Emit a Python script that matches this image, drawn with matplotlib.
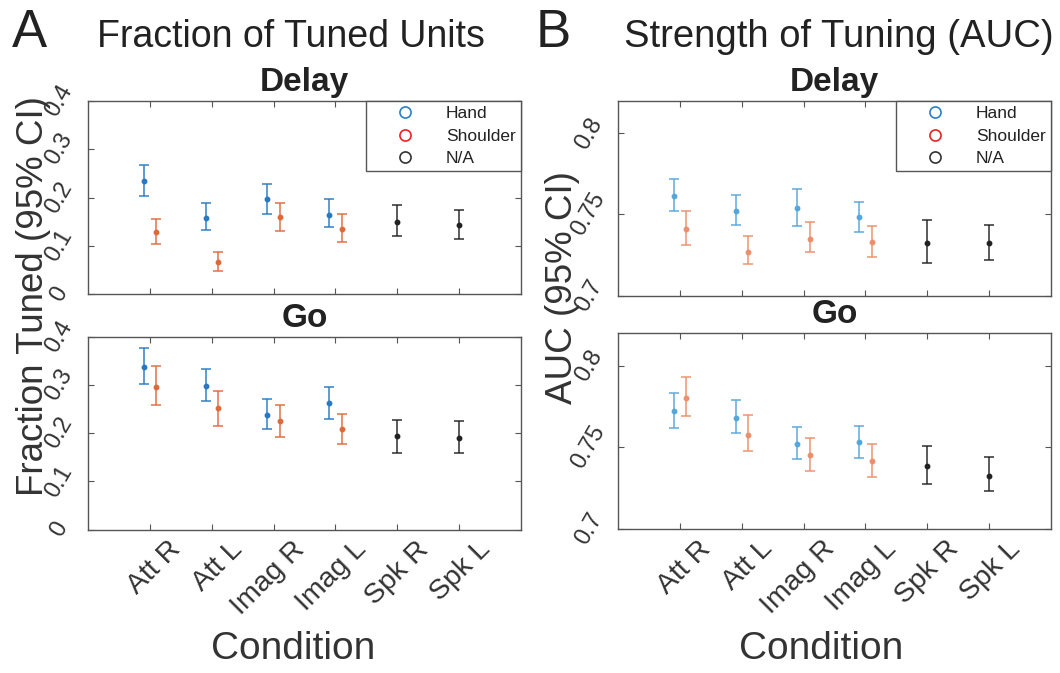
import numpy as np
import matplotlib
matplotlib.use('Agg')
import matplotlib.pyplot as plt
import matplotlib.transforms as mtransforms
from matplotlib.lines import Line2D

plt.rcParams['font.family'] = ['Liberation Sans', 'DejaVu Sans']

# Condições (eixo x)
conditions = ['Att R', 'Att L', 'Imag R', 'Imag L', 'Spk R', 'Spk L']
hand_pos = [1, 2, 3, 4]
shoulder_pos = [1, 2, 3, 4]
na_pos = [5, 6]

# A - Fraction tuned, Delay
frac_delay_hand = [0.234, 0.157, 0.197, 0.164]
frac_delay_hand_lo = [0.203, 0.133, 0.166, 0.138]
frac_delay_hand_hi = [0.268, 0.188, 0.228, 0.196]
frac_delay_sh = [0.128, 0.066, 0.159, 0.134]
frac_delay_sh_lo = [0.103, 0.048, 0.130, 0.108]
frac_delay_sh_hi = [0.156, 0.088, 0.189, 0.166]
frac_delay_na = [0.150, 0.143]
frac_delay_na_lo = [0.121, 0.114]
frac_delay_na_hi = [0.184, 0.175]

# A - Fraction tuned, Go
frac_go_hand = [0.337, 0.299, 0.238, 0.263]
frac_go_hand_lo = [0.303, 0.266, 0.208, 0.230]
frac_go_hand_hi = [0.377, 0.334, 0.272, 0.297]
frac_go_sh = [0.297, 0.253, 0.225, 0.209]
frac_go_sh_lo = [0.259, 0.215, 0.192, 0.178]
frac_go_sh_hi = [0.340, 0.287, 0.259, 0.240]
frac_go_na = [0.194, 0.190]
frac_go_na_lo = [0.160, 0.158]
frac_go_na_hi = [0.228, 0.226]

# B - AUC, Delay
auc_delay_hand = [0.7612, 0.7520, 0.7537, 0.7482]
auc_delay_hand_lo = [0.7523, 0.7437, 0.7429, 0.7390]
auc_delay_hand_hi = [0.7716, 0.7618, 0.7660, 0.7578]
auc_delay_sh = [0.7410, 0.7270, 0.7351, 0.7329]
auc_delay_sh_lo = [0.7310, 0.7194, 0.7266, 0.7235]
auc_delay_sh_hi = [0.7519, 0.7366, 0.7453, 0.7431]
auc_delay_na = [0.7323, 0.7323]
auc_delay_na_lo = [0.7198, 0.7220]
auc_delay_na_hi = [0.7465, 0.7437]

# B - AUC, Go
auc_go_hand = [0.7725, 0.7680, 0.7520, 0.7530]
auc_go_hand_lo = [0.7621, 0.7588, 0.7430, 0.7436]
auc_go_hand_hi = [0.7833, 0.7787, 0.7625, 0.7633]
auc_go_sh = [0.7801, 0.7578, 0.7452, 0.7414]
auc_go_sh_lo = [0.7692, 0.7477, 0.7357, 0.7320]
auc_go_sh_hi = [0.7928, 0.7696, 0.7560, 0.7520]
auc_go_na = [0.7385, 0.7326]
auc_go_na_lo = [0.7274, 0.7235]
auc_go_na_hi = [0.7508, 0.7440]

# Cores
cores_A = {'hand': '#2a78c0', 'sh': '#de6a3c', 'na': '#222222'}
cores_B = {'hand': '#55a6da', 'sh': '#ec8f6c', 'na': '#222222'}
cores_leg = {'Hand': '#2a7fd0', 'Shoulder': '#ee2222', 'N/A': '#333333'}

fig = plt.figure(figsize=(10.6, 6.73), dpi=100)
W, H = 1060, 673


def px_axes(left, top, right, bottom):
    return fig.add_axes([left / W, 1 - bottom / H, (right - left) / W, (bottom - top) / H])


def errbar(ax, pos, mid, lo, hi, off, cor):
    x = np.array(pos) + off
    mid = np.array(mid)
    err = [mid - np.array(lo), np.array(hi) - mid]
    ax.errorbar(x, mid, yerr=err, fmt='none', ecolor=cor, elinewidth=1.3,
                capsize=3.5, capthick=1.3, alpha=0.8)
    ax.plot(x, mid, 'o', color=cor, markersize=3.2, linestyle='none')


def painel(ax, dados, cores, ylim, yticks, yticklabels, titulo, xlabels):
    (h, hlo, hhi), (s, slo, shi), (n, nlo, nhi) = dados
    errbar(ax, hand_pos, h, hlo, hhi, -0.1, cores['hand'])
    errbar(ax, shoulder_pos, s, slo, shi, 0.1, cores['sh'])
    errbar(ax, na_pos, n, nlo, nhi, 0.0, cores['na'])
    ax.set_xlim(0, 7)
    ax.set_ylim(*ylim)
    ax.set_xticks(range(1, 7))
    ax.set_yticks(yticks)
    ax.tick_params(direction='in', length=4, width=0.8, color='#555555',
                   top=True, right=True)
    ax.tick_params(axis='y', pad=21)
    ax.tick_params(axis='x', pad=5)
    ax.set_yticklabels(yticklabels, rotation=60, ha='center', va='center',
                       rotation_mode='anchor', fontsize=17, color='#333333')
    if xlabels:
        ax.set_xticklabels(conditions, rotation=45, ha='right', va='top',
                           rotation_mode='anchor', fontsize=20.5, color='#333333')
        # deslocar rótulos para a direita, como no original
        desloc = mtransforms.ScaledTranslation(18 / 100, 0, fig.dpi_scale_trans)
        for lab in ax.get_xticklabels():
            lab.set_transform(lab.get_transform() + desloc)
    else:
        ax.set_xticklabels([])
    for sp in ax.spines.values():
        sp.set_color('#555555')
        sp.set_linewidth(1.0)
    ax.set_title(titulo, fontsize=24, fontweight='bold', color='#222222', pad=7)


def legenda(ax):
    handles = [Line2D([], [], marker='o', linestyle='none', markersize=8,
                      markerfacecolor='none', markeredgecolor=c, markeredgewidth=1.2)
               for c in cores_leg.values()]
    leg = ax.legend(handles, list(cores_leg.keys()), loc='upper right',
                    bbox_to_anchor=(1.0, 1.0), borderaxespad=0, fancybox=False,
                    edgecolor='#555555', framealpha=1, fontsize=12.5,
                    handlelength=3.9, handletextpad=0.4, labelspacing=0.42,
                    borderpad=0.3)
    leg.get_frame().set_linewidth(1.0)
    for t in leg.get_texts():
        t.set_color('#222222')


ytk_A = [0, 0.1, 0.2, 0.3, 0.4]
ytk_A_lab = ['0', '0.1', '0.2', '0.3', '0.4']
ytk_B = [0.7, 0.75, 0.8]
ytk_B_lab = ['0.7', '0.75', '0.8']

axA1 = px_axes(88, 101, 521, 294)
painel(axA1, [(frac_delay_hand, frac_delay_hand_lo, frac_delay_hand_hi),
              (frac_delay_sh, frac_delay_sh_lo, frac_delay_sh_hi),
              (frac_delay_na, frac_delay_na_lo, frac_delay_na_hi)],
       cores_A, (0, 0.4), ytk_A, ytk_A_lab, 'Delay', False)
legenda(axA1)

axA2 = px_axes(88, 337, 521, 529.5)
painel(axA2, [(frac_go_hand, frac_go_hand_lo, frac_go_hand_hi),
              (frac_go_sh, frac_go_sh_lo, frac_go_sh_hi),
              (frac_go_na, frac_go_na_lo, frac_go_na_hi)],
       cores_A, (0, 0.4), ytk_A, ytk_A_lab, 'Go', True)

axB1 = px_axes(618, 101, 1051, 295.5)
painel(axB1, [(auc_delay_hand, auc_delay_hand_lo, auc_delay_hand_hi),
              (auc_delay_sh, auc_delay_sh_lo, auc_delay_sh_hi),
              (auc_delay_na, auc_delay_na_lo, auc_delay_na_hi)],
       cores_B, (0.7, 0.82), ytk_B, ytk_B_lab, 'Delay', False)
legenda(axB1)

axB2 = px_axes(618, 333, 1051, 529)
painel(axB2, [(auc_go_hand, auc_go_hand_lo, auc_go_hand_hi),
              (auc_go_sh, auc_go_sh_lo, auc_go_sh_hi),
              (auc_go_na, auc_go_na_lo, auc_go_na_hi)],
       cores_B, (0.7, 0.82), ytk_B, ytk_B_lab, 'Go', True)

# Textos gerais
fig.text(12 / W, 1 - 47 / H, 'A', fontsize=38, color='#222222', va='baseline')
fig.text(536 / W, 1 - 47 / H, 'B', fontsize=38, color='#222222', va='baseline')
fig.text(291 / W, 1 - 47 / H, 'Fraction of Tuned Units', fontsize=27,
         color='#222222', ha='center', va='baseline')
fig.text(839 / W, 1 - 47 / H, 'Strength of Tuning (AUC)', fontsize=27.5,
         color='#222222', ha='center', va='baseline')
fig.text(34 / W, 1 - 296 / H, 'Fraction Tuned (95% CI)', fontsize=26.5,
         color='#333333', ha='center', va='center', rotation=90)
fig.text(562 / W, 1 - 288 / H, 'AUC (95% CI)', fontsize=26.5,
         color='#333333', ha='center', va='center', rotation=90)
fig.text(293 / W, 1 - 649 / H, 'Condition', fontsize=28,
         color='#333333', ha='center', va='center')
fig.text(821 / W, 1 - 649 / H, 'Condition', fontsize=28,
         color='#333333', ha='center', va='center')

fig.savefig('out.png', dpi=100)
